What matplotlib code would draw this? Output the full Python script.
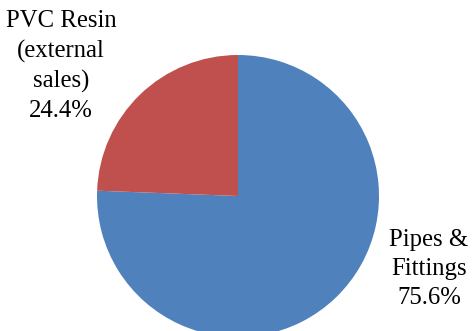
import matplotlib
matplotlib.use("Agg")
import matplotlib.pyplot as plt

labels = ["Pipes &\nFittings\n75.6%", "PVC Resin\n(external\nsales)\n24.4%"]
values = [75.6, 24.4]
colors = ["#4F81BD", "#C0504D"]

W, H = 472, 331
fig = plt.figure(figsize=(W / 100, H / 100), dpi=100)

# pie centre at (238, 196) px from top-left, radius 141 px
cx, cy, r = 238, 196, 141
ax = fig.add_axes([(cx - r) / W, (H - cy - r) / H, 2 * r / W, 2 * r / H])
ax.pie(values, colors=colors, startangle=90, counterclock=False, radius=1,
       wedgeprops=dict(linewidth=0))
ax.set_xlim(-1, 1)
ax.set_ylim(-1, 1)
ax.set_aspect("equal")
ax.axis("off")

font = dict(family="Liberation Serif", fontsize=17.8, ha="center", va="center",
            multialignment="center", linespacing=1.4)
fig.text(61 / W, 1 - 66 / H, labels[1], **font)
fig.text(429 / W, 1 - 269 / H, labels[0], **font)

fig.savefig("out.png", dpi=100)
